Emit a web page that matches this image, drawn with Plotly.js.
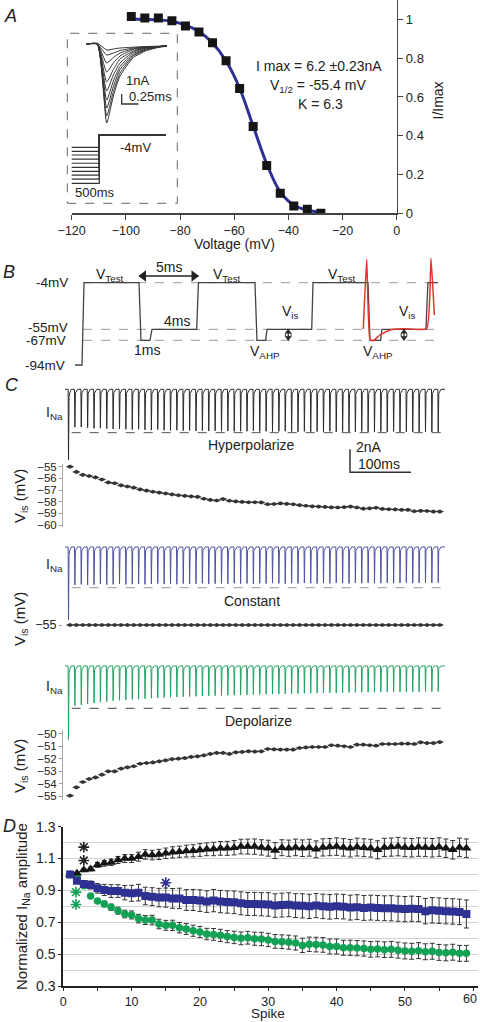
<!DOCTYPE html>
<html><head><meta charset="utf-8">
<script src="https://cdn.plot.ly/plotly-3.0.1.min.js"></script>
<style>html,body{margin:0;padding:0;background:#fff;overflow:hidden}#chart{width:480px;height:1022px}</style>
</head><body><div id="chart"></div>
<script>
// ================= DATA =================
// Panel A: steady-state inactivation
const ivVoltage = [-98,-93,-88,-83,-78,-73,-68,-63,-58,-53,-48,-43,-38,-33,-28];
const ivNorm    = [1.015,1.007,1.007,0.993,0.966,0.935,0.88,0.787,0.643,0.448,0.247,0.103,0.038,0.021,0.0];
const fitVoltage = [-98,-93,-88,-83,-78,-73,-68,-63,-58,-53,-48,-43,-38,-33,-28];
const fitNorm    = [1.002,1.0,0.997,0.99,0.97,0.937,0.878,0.785,0.645,0.45,0.255,0.11,0.042,0.017,0.005];
const xTicksA = [-120,-100,-80,-60,-40,-20,0];
const yTicksA = [0,0.2,0.4,0.6,0.8,1];
// Inset: current family (ms, nA)
const insetTime = [0,0.16,0.3,0.4,0.5,0.7,0.9,1.2];
const insetI1  = [0,0,-7.9,-5.2,-3.2,-1.35,-0.65,-0.15];
const insetI2  = [0,0,-7.2,-4.75,-2.9,-1.2,-0.56,-0.15];
const insetI3  = [0,0,-6.4,-4.25,-2.55,-1.1,-0.52,-0.15];
const insetI4  = [0,0,-5.6,-3.7,-2.25,-0.95,-0.48,-0.15];
const insetI5  = [0,0,-4.7,-3.1,-1.9,-0.8,-0.4,-0.15];
const insetI6  = [0,0,-3.8,-2.55,-1.5,-0.7,-0.36,-0.2];
const insetI7  = [0,0,-2.8,-1.9,-1.2,-0.55,-0.32,-0.25];
const insetI8  = [0,0,-1.9,-1.35,-0.9,-0.48,-0.32,-0.25];
const insetI9  = [0,0,-1.1,-0.9,-0.65,-0.4,-0.28,-0.25];
const insetI10 = [0,0.08,-0.6,-0.5,-0.4,-0.32,-0.25,-0.2];
const insetCurrents = [insetI1,insetI2,insetI3,insetI4,insetI5,insetI6,insetI7,insetI8,insetI9,insetI10];
// Inset: prepulse protocol (ms, mV)
const prepulseLevels = [-98,-90,-82,-75,-67,-59,-51,-43,-36,-28];
const prepulseStart = -500, testStart = 0, testEnd = 1208, testLevel = -4;
const insetBarTime = 0.525, insetBarTop = -5.0;   // 0.25 ms / 1 nA scale bar

// Panel B: pulse protocol (ms, mV)
const protoTime = [-0.59,0,0.17,4.83,5.0,5.76,5.93,9.72,9.87,14.66,14.83,15.57,15.68,19.47,19.58,24.24,24.41,25.31,25.42,29.15,29.32,30.17];
const protoVolt = [-94,-94,-4,-4,-67,-67,-55,-55,-4,-4,-67,-67,-55,-55,-4,-4,-67,-67,-55,-55,-4,-4];
const apTime = [23.84,24.13,24.41,24.69,25.25,26.10,27.20,29.21,29.58,29.86];
const apVolt = [-54.6,21.6,-66.7,-67.4,-61.2,-55.7,-54.3,-54.3,22.7,-39.3];
const refLevels = [-4,-55,-67];
const refStartB = 0.08, refEndB = 30.17;
const fiveMsStart = 4.83, fiveMsEnd = 9.87, fiveMsLevel = 3.3;
const visArrowTimes = [17.48,27.29];
const visArrowTop = -55, visArrowBottom = -67;

// Panel C: spike trains (nA) and Vis (mV)
const spikePeriod = 10.45, visOffset = 2.5, traceStart = -5.7, traceEnd = 617;
const hyperAmp = [-6.15,-3.3,-3.28,-3.35,-3.4,-3.38,-3.42,-3.45,-3.44,-3.48,
  -3.5,-3.47,-3.52,-3.55,-3.5,-3.56,-3.58,-3.55,-3.6,-3.58,
  -3.62,-3.6,-3.63,-3.6,-3.65,-3.62,-3.66,-3.64,-3.65,-3.6,
  -3.67,-3.65,-3.68,-3.66,-3.64,-3.68,-3.7,-3.66,-3.69,-3.67,
  -3.7,-3.65,-3.7,-3.68,-3.71,-3.69,-3.67,-3.7,-3.72,-3.68,
  -3.7,-3.66,-3.71,-3.69,-3.72,-3.7,-3.68,-3.71,-3.7];
const constAmp = [-6.35,-3.3,-3.25,-3.3,-3.28,-3.22,-3.27,-3.25,-3.2,-3.26,
  -3.24,-3.2,-3.25,-3.22,-3.18,-3.23,-3.2,-3.24,-3.18,-3.21,
  -3.2,-3.16,-3.22,-3.19,-3.17,-3.2,-3.15,-3.19,-3.17,-3.2,
  -3.16,-3.18,-3.14,-3.17,-3.19,-3.15,-3.17,-3.13,-3.16,-3.18,
  -3.14,-3.16,-3.12,-3.15,-3.17,-3.13,-3.15,-3.12,-3.16,-3.14,
  -3.12,-3.15,-3.13,-3.11,-3.14,-3.12,-3.1,-3.13,-3.1];
const depolAmp = [-6.4,-3.45,-3.38,-3.3,-3.22,-3.15,-3.1,-3.02,-2.98,-2.95,
  -2.9,-2.88,-2.85,-2.8,-2.78,-2.75,-2.72,-2.7,-2.68,-2.66,
  -2.64,-2.62,-2.6,-2.58,-2.57,-2.55,-2.54,-2.52,-2.5,-2.49,
  -2.48,-2.46,-2.45,-2.44,-2.42,-2.41,-2.4,-2.38,-2.37,-2.36,
  -2.35,-2.34,-2.33,-2.32,-2.31,-2.3,-2.29,-2.28,-2.28,-2.27,
  -2.26,-2.26,-2.25,-2.25,-2.24,-2.24,-2.23,-2.23,-2.22];
const hyperVis = [-55.0,-55.45,-55.7,-55.8,-55.92,-56.1,-56.35,-56.42,-56.6,-56.7,
  -56.8,-56.95,-57.05,-57.15,-57.22,-57.3,-57.38,-57.45,-57.5,-57.55,
  -57.58,-57.75,-57.85,-57.9,-57.78,-57.92,-57.98,-58.02,-58.05,-58.05,
  -58.06,-58.22,-58.2,-58.15,-58.18,-58.22,-58.3,-58.35,-58.4,-58.42,
  -58.45,-58.48,-58.5,-58.47,-58.42,-58.5,-58.6,-58.57,-58.52,-58.62,
  -58.65,-58.66,-58.7,-58.7,-58.82,-58.78,-58.8,-58.85,-58.85];
const constVis = [-55,-55,-55,-55,-55,-55,-55,-55,-55,-55,
  -55,-55,-55,-55,-55,-55,-55,-55,-55,-55,
  -55,-55,-55,-55,-55,-55,-55,-55,-55,-55,
  -55,-55,-55,-55,-55,-55,-55,-55,-55,-55,
  -55,-55,-55,-55,-55,-55,-55,-55,-55,-55,
  -55,-55,-55,-55,-55,-55,-55,-55,-55];
const depolVis = [-54.97,-54.3,-53.87,-53.63,-53.5,-53.28,-53.01,-53.01,-52.8,-52.69,
  -52.6,-52.4,-52.34,-52.29,-52.2,-52.12,-52.02,-51.99,-51.94,-51.85,
  -51.8,-51.72,-51.61,-51.53,-51.53,-51.61,-51.48,-51.45,-51.4,-51.42,
  -51.4,-51.21,-51.24,-51.26,-51.26,-51.26,-51.13,-51.08,-51.05,-51.05,
  -51.05,-50.91,-50.94,-50.99,-51.05,-50.86,-50.86,-50.91,-50.94,-50.81,
  -50.81,-50.81,-50.78,-50.78,-50.81,-50.67,-50.73,-50.73,-50.65];
const hyperRef = -3.77, constRef = -3.54, depolRef = -3.68;
const refStartC = 5.2, refEndC = 614.4;
const scaleBarTime = 461.5, scaleBarTop = -5.22;  // 100 ms / 2 nA
const hyperTicks = [-55,-56,-57,-58,-59,-60];
const constTicks = [-55];
const depolTicks = [-50,-51,-52,-53,-54,-55];

// Panel D: normalized INa amplitude
const blackMean = [1.0,1.007,1.028,1.034,1.06,1.07,1.076,1.091,1.1,1.1,
  1.112,1.126,1.122,1.126,1.133,1.139,1.143,1.147,1.149,1.154,
  1.158,1.16,1.164,1.164,1.168,1.175,1.175,1.175,1.17,1.165,
  1.15,1.168,1.165,1.17,1.165,1.168,1.158,1.17,1.172,1.175,
  1.17,1.165,1.172,1.168,1.165,1.155,1.17,1.172,1.175,1.17,
  1.168,1.172,1.17,1.168,1.172,1.165,1.155,1.17,1.165];
const blackErr = [0,0.005,0.01,0.012,0.015,0.018,0.02,0.022,0.025,0.025,
  0.028,0.03,0.03,0.032,0.033,0.035,0.035,0.037,0.038,0.04,
  0.04,0.042,0.043,0.044,0.045,0.046,0.047,0.048,0.048,0.05,
  0.05,0.05,0.051,0.052,0.052,0.053,0.053,0.054,0.054,0.055,
  0.055,0.055,0.056,0.056,0.056,0.057,0.057,0.057,0.058,0.058,
  0.058,0.058,0.058,0.058,0.058,0.058,0.058,0.058,0.058];
const blueMean = [1.0,0.961,0.94,0.934,0.913,0.903,0.896,0.896,0.886,0.882,
  0.886,0.865,0.861,0.855,0.855,0.85,0.85,0.84,0.84,0.836,
  0.83,0.836,0.83,0.827,0.825,0.819,0.815,0.815,0.813,0.812,
  0.805,0.808,0.81,0.805,0.803,0.8,0.805,0.8,0.797,0.8,
  0.798,0.792,0.795,0.79,0.792,0.79,0.788,0.788,0.785,0.783,
  0.785,0.783,0.77,0.775,0.773,0.77,0.768,0.765,0.752];
const blueErr = [0,0.01,0.02,0.025,0.03,0.035,0.04,0.04,0.045,0.05,
  0.052,0.055,0.056,0.058,0.06,0.062,0.064,0.065,0.066,0.068,
  0.068,0.07,0.07,0.07,0.071,0.072,0.072,0.073,0.073,0.074,
  0.074,0.075,0.075,0.075,0.076,0.076,0.076,0.077,0.077,0.077,
  0.077,0.078,0.078,0.078,0.078,0.078,0.078,0.079,0.079,0.079,
  0.079,0.079,0.08,0.08,0.08,0.08,0.08,0.08,0.088];
const greenMean = [1.0,0.99,0.93,0.865,0.834,0.815,0.794,0.773,0.752,0.746,
  0.723,0.714,0.714,0.689,0.681,0.681,0.666,0.658,0.647,0.639,
  0.626,0.624,0.618,0.61,0.605,0.599,0.603,0.597,0.595,0.589,
  0.58,0.578,0.575,0.57,0.555,0.562,0.56,0.558,0.548,0.548,
  0.54,0.54,0.538,0.535,0.53,0.532,0.528,0.53,0.525,0.52,
  0.518,0.522,0.515,0.518,0.511,0.508,0.512,0.505,0.505];
const greenErr = [0,0.005,0.01,0.012,0.015,0.018,0.02,0.022,0.024,0.025,
  0.027,0.028,0.03,0.03,0.031,0.032,0.033,0.034,0.035,0.035,
  0.036,0.037,0.038,0.038,0.039,0.04,0.04,0.041,0.042,0.042,
  0.043,0.043,0.044,0.044,0.045,0.045,0.046,0.046,0.047,0.047,
  0.047,0.048,0.048,0.048,0.049,0.049,0.049,0.05,0.05,0.05,
  0.05,0.05,0.05,0.05,0.05,0.05,0.05,0.05,0.05];
const xTickValsD = [0,10,20,30,40,50,60];
const xTickTextD = ['0','10','20','30','40','50',''];
const xLastTickLabel = '60';
const xMinorTicksD = [5,15,25,35,45,55];
const yTickValsD = [0.3,0.5,0.7,0.9,1.1,1.3];
const yMinorTicksD = [0.4,0.6,0.8,1.0,1.2];
const starsBlack = {x:[3,3], y:[1.172,1.088]};
const starsBlue  = {x:[15], y:[0.948]};
const starsGreen = {x:[1.85,1.85], y:[0.889,0.812]};

// ================= LAYOUT HELPERS =================
const W = 480, H = 1022;
const FONT = 'Liberation Sans, Arial, Helvetica, sans-serif';
const xd = (a,b) => [a/W, b/W];
const yd = (top,bottom) => [1-bottom/H, 1-top/H];
const px = x => x/W, py = y => 1-y/H;
const BLUE = '#2e3192', GREEN = '#12a155';
function txt(x,y,text,size,extra){
  return Object.assign({xref:'paper',yref:'paper',x:px(x),y:py(y),text:text,showarrow:false,
    xanchor:'center',yanchor:'middle',font:{family:FONT,size:size||14,color:'#222'}},extra||{});
}
const spikeNumber = blackMean.map((_,i)=>i+1);
const spikeTimes = hyperAmp.map((_,i)=>i*spikePeriod);
function spikeTrain(amps){
  const xs=[traceStart], ys=[0];
  amps.forEach((a,i)=>{const t=spikeTimes[i];
    xs.push(t-0.6,t,t+0.9,t+2.5,t+4.5); ys.push(0,a,a*0.1,a*0.04,0);});
  xs.push(traceEnd); ys.push(0);
  return {xs,ys};
}
const visTimes = spikeTimes.map(t=>t+visOffset);

// ================= TRACES =================
const data = [];
// A
data.push({x:fitVoltage,y:fitNorm,xaxis:'x',yaxis:'y',mode:'lines',line:{color:BLUE,width:3,shape:'spline'}});
data.push({x:ivVoltage,y:ivNorm,xaxis:'x',yaxis:'y',mode:'markers',marker:{symbol:'square',size:9,color:'#151515'}});
insetCurrents.forEach(c=>data.push({x:insetTime,y:c,xaxis:'x2',yaxis:'y2',mode:'lines',line:{color:'#333',width:1,shape:'spline',smoothing:0.5}}));
data.push({x:[insetBarTime,insetBarTime,insetBarTime+0.25],y:[insetBarTop,insetBarTop-1,insetBarTop-1],xaxis:'x2',yaxis:'y2',mode:'lines',line:{color:'#333',width:1.3}});
prepulseLevels.forEach(lv=>data.push({x:[prepulseStart,testStart,testStart,testEnd],y:[lv,lv,testLevel,testLevel],xaxis:'x3',yaxis:'y3',mode:'lines',line:{color:'#333',width:1.2}}));
// B
data.push({x:protoTime,y:protoVolt,xaxis:'x4',yaxis:'y4',mode:'lines',line:{color:'#444',width:1.3}});
data.push({x:apTime,y:apVolt,xaxis:'x4',yaxis:'y4',mode:'lines',line:{color:'#e0342c',width:1.5,shape:'spline',smoothing:0.4}});
// 5 ms double arrow
data.push({x:[fiveMsStart,fiveMsEnd],y:[fiveMsLevel,fiveMsLevel],xaxis:'x4',yaxis:'y4',mode:'lines',line:{color:'#222',width:1.3}});
data.push({x:[fiveMsStart+0.38,fiveMsEnd-0.38],y:[fiveMsLevel,fiveMsLevel],xaxis:'x4',yaxis:'y4',mode:'markers',
  marker:{symbol:['triangle-left','triangle-right'],size:10,color:'#222'}});
// Vis double arrows
visArrowTimes.forEach(t=>{
  data.push({x:[t,t],y:[visArrowTop,visArrowBottom],xaxis:'x4',yaxis:'y4',mode:'lines',line:{color:'#222',width:1.2}});
  data.push({x:[t,t],y:[visArrowTop-2.8,visArrowBottom+2.8],xaxis:'x4',yaxis:'y4',mode:'markers',
    marker:{symbol:['triangle-up','triangle-down'],size:6,color:'#222'}});
  data.push({x:[t],y:[(visArrowTop+visArrowBottom)/2],xaxis:'x4',yaxis:'y4',mode:'markers',
    marker:{symbol:'circle-open',size:6,color:'#333',line:{width:1}}});
});
// C
const tH = spikeTrain(hyperAmp), tC = spikeTrain(constAmp), tD = spikeTrain(depolAmp);
data.push({x:tH.xs,y:tH.ys,xaxis:'x5',yaxis:'y5',mode:'lines',line:{color:'#2a2a2a',width:1}});
data.push({x:[scaleBarTime,scaleBarTime,scaleBarTime+100],y:[scaleBarTop,scaleBarTop-2,scaleBarTop-2],xaxis:'x5',yaxis:'y5',mode:'lines',line:{color:'#333',width:1.5}});
data.push({x:visTimes,y:hyperVis,xaxis:'x6',yaxis:'y6',mode:'markers',marker:{symbol:'diamond-wide',size:6,color:'#333'}});
data.push({x:tC.xs,y:tC.ys,xaxis:'x7',yaxis:'y7',mode:'lines',line:{color:'#4c52a3',width:1}});
data.push({x:visTimes,y:constVis,xaxis:'x8',yaxis:'y8',mode:'markers',marker:{symbol:'diamond-wide',size:6,color:'#333'}});
data.push({x:tD.xs,y:tD.ys,xaxis:'x9',yaxis:'y9',mode:'lines',line:{color:'#1ea35e',width:1}});
data.push({x:visTimes,y:depolVis,xaxis:'x10',yaxis:'y10',mode:'markers',marker:{symbol:'diamond-wide',size:6,color:'#333'}});
// D
const eb = arr => ({type:'data',array:arr,visible:true,color:'#333',thickness:1,width:2.5});
data.push({x:spikeNumber,y:greenMean,error_y:eb(greenErr),xaxis:'x11',yaxis:'y11',mode:'markers',marker:{symbol:'circle',size:7.5,color:GREEN}});
data.push({x:spikeNumber,y:blackMean,error_y:eb(blackErr),xaxis:'x11',yaxis:'y11',mode:'markers',marker:{symbol:'triangle-up',size:9,color:'#151515'}});
data.push({x:spikeNumber,y:blueMean,error_y:eb(blueErr),xaxis:'x11',yaxis:'y11',mode:'markers',marker:{symbol:'square',size:8,color:BLUE}});
// significance asterisks
[[starsBlack,'#222'],[starsBlue,BLUE],[starsGreen,GREEN]].forEach(s=>data.push({x:s[0].x,y:s[0].y,xaxis:'x11',yaxis:'y11',mode:'markers',
  marker:{symbol:'asterisk-open',size:9,color:s[1],line:{color:s[1],width:1.6}}}));

// ================= AXES =================
const hidden = (dom,rng,anchor) => ({domain:dom,range:rng,visible:false,anchor:anchor,fixedrange:true});
const tf = s => ({family:FONT,size:s,color:'#222'});
const visAxis = (dom,rng,ticks,anchor) => ({domain:dom,range:rng,anchor:anchor,tickvals:ticks,ticks:'outside',ticklen:3,
  tickcolor:'#999',showline:true,linecolor:'#aaa',linewidth:1,showgrid:false,zeroline:false,tickfont:tf(11.5)});
const layout = {
  width:W,height:H,margin:{l:0,r:0,t:0,b:0},paper_bgcolor:'#fff',plot_bgcolor:'rgba(0,0,0,0)',showlegend:false,
  font:{family:FONT,color:'#222'},
  xaxis:{domain:xd(71.7,396.7),range:[-120,0],anchor:'y',tickvals:xTicksA,ticks:'outside',ticklen:5,tickcolor:'#444',
    showline:true,linecolor:'#444',linewidth:1.5,showgrid:false,zeroline:false,tickfont:tf(12.5)},
  yaxis:{domain:yd(0,213.3),range:[0,1.1],anchor:'x',side:'right',tickvals:yTicksA,ticks:'outside',ticklen:5,tickcolor:'#444',
    showline:true,linecolor:'#444',linewidth:1.5,showgrid:false,zeroline:false,tickfont:tf(13)},
  xaxis2:hidden(xd(68,177),[-0.28,1.354],'y2'), yaxis2:hidden(yd(34,130),[-8.6,1.0],'x2'),
  xaxis3:hidden(xd(68,177),[-567,1407.6],'y3'), yaxis3:hidden(yd(130,200),[-130.5,5.66],'x3'),
  xaxis4:hidden(xd(70,450),[-1.017,31.19],'y4'), yaxis4:hidden(yd(250,372),[-101.66,31.76],'x4'),
  xaxis5:hidden(xd(55,450),[-22.13,625.4],'y5'), yaxis5:hidden(yd(380,476),[-7.54,0.81],'x5'),
  xaxis6:hidden(xd(63,450),[-9.02,625.4],'y6'),
  yaxis6:visAxis(yd(464,527),[-60.17,-54.77],hyperTicks,'x6'),
  xaxis7:hidden(xd(55,450),[-22.13,625.4],'y7'), yaxis7:hidden(yd(538,622),[-6.52,0.78],'x7'),
  xaxis8:hidden(xd(63,450),[-9.02,625.4],'y8'),
  yaxis8:Object.assign(visAxis(yd(612,638),[-56.115,-53.885],constTicks,'x8'),{showline:false,tickfont:tf(12.5)}),
  xaxis9:hidden(xd(55,450),[-22.13,625.4],'y9'), yaxis9:hidden(yd(657,742),[-6.61,0.78],'x9'),
  xaxis10:hidden(xd(63,450),[-9.02,625.4],'y10'),
  yaxis10:visAxis(yd(730,800),[-55.32,-49.68],depolTicks,'x10'),
  xaxis11:{domain:xd(63.3,478),range:[0,60.7],anchor:'y11',tickvals:xTickValsD,ticktext:xTickTextD,ticks:'outside',ticklen:3,
    minor:{tickvals:xMinorTicksD,ticks:'outside',ticklen:3,tickcolor:'#222'},
    tickcolor:'#222',showline:true,linecolor:'#222',linewidth:2,showgrid:false,zeroline:false,tickfont:tf(12.5)},
  yaxis11:{domain:yd(826.7,986),range:[0.3,1.3],anchor:'x11',tickvals:yTickValsD,ticks:'outside',ticklen:3,
    minor:{tickvals:yMinorTicksD,showgrid:true,gridcolor:'#d2d2d2',gridwidth:1,ticks:''},
    tickcolor:'#222',showline:true,linecolor:'#222',linewidth:2,showgrid:true,gridcolor:'#d2d2d2',gridwidth:1,zeroline:false,tickfont:tf(14)},
  shapes:[], annotations:[]
};
// shapes
layout.shapes.push({type:'rect',xref:'paper',yref:'paper',x0:px(67.3),x1:px(177.3),y0:py(203.3),y1:py(33.3),line:{color:'#666',width:1,dash:'dash'}});
refLevels.forEach(v=>layout.shapes.push({type:'line',xref:'x4',yref:'y4',x0:refStartB,x1:refEndB,y0:v,y1:v,line:{color:'#9a9a9a',width:1,dash:'dash'},layer:'below'}));
[['x5','y5',hyperRef,'#555'],['x7','y7',constRef,'#999'],['x9','y9',depolRef,'#444']].forEach(r=>
  layout.shapes.push({type:'line',xref:r[0],yref:r[1],x0:refStartC,x1:refEndC,y0:r[2],y1:r[2],line:{color:r[3],width:1,dash:'dash'}}));
// annotations
const A = layout.annotations;
// axis titles
A.push(txt(234,244,'Voltage (mV)',14), txt(437.5,101,'I/Imax',14,{textangle:-90}));
A.push(txt(20,496,'V<sub>is</sub> (mV)',15,{textangle:-90}), txt(20,619,'V<sub>is</sub> (mV)',15,{textangle:-90}), txt(20,766,'V<sub>is</sub> (mV)',15,{textangle:-90}));
A.push(txt(22,907,'Normalized I<sub>Na</sub> amplitude',15,{textangle:-90}), txt(268,1021.5,'Spike',13.5,{yanchor:'bottom',borderpad:0}));
// last x tick label of panel D (kept inside the page)
A.push(txt(479,998.5,xLastTickLabel,12.5,{xanchor:'right'}));
// panel A
A.push(txt(10,16,'<i>A</i>',18), txt(319,66,'I max = 6.2 ±0.23nA',14), txt(318,86,'V<sub>1/2</sub> = -55.4 mV',14), txt(320,104,'K = 6.3',14));
A.push(txt(137,80,'1nA',13), txt(150,97,'0.25ms',13), txt(135,147,'-4mV',13), txt(95,192,'500ms',13));
// panel B
A.push(txt(9,272,'<i>B</i>',18));
A.push(txt(70,282.7,'-4mV',13.5,{xanchor:'right'}), txt(70,327.7,'-55mV',13.5,{xanchor:'right'}),
       txt(68,340,'-67mV',13.5,{xanchor:'right'}), txt(67,365,'-94mV',13.5,{xanchor:'right'}));
[110,227,342].forEach(x=>A.push(txt(x,275,'V<sub>Test</sub>',14)));
A.push(txt(169,267,'5ms',14), txt(177,321,'4ms',14), txt(147,350,'1ms',14));
A.push(txt(265,352,'V<sub>AHP</sub>',14), txt(378,352,'V<sub>AHP</sub>',14), txt(290,312,'V<sub>is</sub>',14), txt(407,312,'V<sub>is</sub>',14));
// panel C
A.push(txt(12,385,'<i>C</i>',18));
A.push(txt(54,413,'I<sub>Na</sub>',14), txt(54,565,'I<sub>Na</sub>',14), txt(54,687,'I<sub>Na</sub>',14));
A.push(txt(251,445,'Hyperpolarize',14), txt(252,601,'Constant',14), txt(258,721,'Depolarize',14));
A.push(txt(369,447,'2nA',14), txt(379,464,'100ms',14));
// panel D
A.push(txt(9,826,'<i>D</i>',18));

Plotly.newPlot('chart',data,layout,{staticPlot:true,displayModeBar:false});
</script></body></html>
